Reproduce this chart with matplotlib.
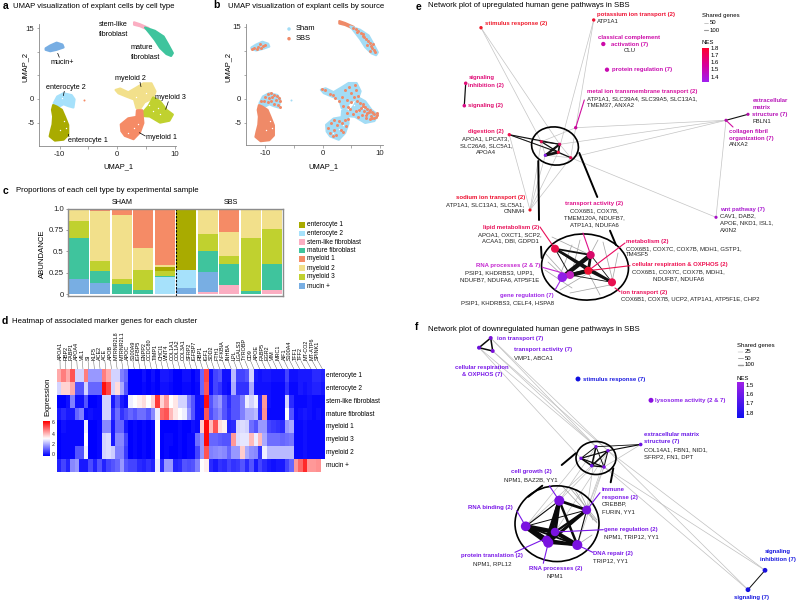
import numpy as np
import matplotlib
matplotlib.use('Agg')
import matplotlib.pyplot as plt
from matplotlib.colors import LinearSegmentedColormap
from matplotlib.patches import Ellipse, Polygon

plt.rcParams['font.family'] = ['Liberation Sans', 'DejaVu Sans']

W, H = 800, 602

# umap cluster outlines, in umap units
mucin_x = [-12.4, -11.6, -10.5, -9.5, -9.3, -10.5, -11.6, -12.4]
mucin_y = [10.7, 11.3, 11.9, 11.5, 10.9, 10.4, 10.1, 10.4]
stem_x = [2.9, 3.9, 5.4, 5.4, 3.9, 2.9]
stem_y = [16.2, 15.8, 15.0, 14.6, 15.4, 15.7]
mature_x = [4.8, 6.5, 8.0, 8.8, 9.6, 9.3, 8.5, 7.4, 6.5, 5.6]
mature_y = [15.1, 14.4, 13.2, 11.5, 9.7, 9.1, 9.5, 10.8, 12.5, 13.9]
ent2_x = [-11.0, -10.4, -9.3, -7.9, -7.4, -7.6, -8.5, -9.3, -9.9, -10.6]
ent2_y = [-0.9, 0.5, 1.2, 0.8, -0.1, -1.8, -1.5, -1.1, -1.5, -1.8]
ent1_x = [-11.1, -10.5, -9.6, -9.1, -8.5, -8.5, -9.3, -10.8, -11.7, -11.5, -11.2, -11.1, -11.3]
ent1_y = [-1.3, -1.6, -2.3, -3.7, -5.5, -7.6, -8.6, -8.8, -7.9, -6.8, -5.4, -3.7, -2.3]
my1_x = [0.6, 1.9, 3.3, 3.4, 4.3, 4.5, 3.9, 2.8, 1.3, 0.7]
my1_y = [-5.4, -4.1, -3.8, -2.4, -2.4, -5.1, -7.1, -8.5, -7.8, -6.8]
my2_x = [-0.3, 0.5, 1.9, 3.3, 4.5, 5.9, 6.6, 6.2, 4.7, 3.9, 3.3, 2.9, 1.6, 0.2]
my2_y = [1.9, 2.2, 1.4, 2.4, 3.3, 3.3, 1.6, 0.2, -0.7, -2.2, -1.9, -0.1, 0.5, 1.2]
my3_x = [6.2, 7.4, 8.5, 9.6, 9.0, 7.4, 5.6, 4.3, 4.6, 5.4]
my3_y = [0.3, -0.5, -2.3, -3.3, -4.6, -5.0, -3.7, -3.6, -2.6, -1.5]
holes_x = [2.8, 3.6, 1.8, 5.0, 6.2, 7.4, 7.0, 3.2, 5.4, -9.9, -9.2, -8.8, -9.5]
holes_y = [-6.2, -5.4, -7.1, 1.2, -2.6, -3.2, -1.9, 0.4, -1.2, -6.5, -4.6, -6.1, 0.2]

# SBS cells on top of the sham cells in panel b
sbs_x = [-12, -11.5, -11.3, -10.8, -10.4, -10, -10.9, -12.3,
         5.2, 5.8, 6.2, 6.6, 7, 7.2, 7.6, 7.9, 8.2, 7.8, 8.4, 8.6, 8.9, 8.3, 9.1, 6, 7, 8.7,
         -9.5, -9, -8.5, -8, -7.6, -7.5, -8.2, -8.8, -9.4, -10, -10.2, -9.6, -9, -8.5, -7.8, -7.4, -10.8,
         -0.2, 0.4, 1.2, 1.8, 2.2, 2.8, 3.4, 3.8, 4.6, 5, 5.4, 5.8, 4.2, 5.0, 6.1, 3.5, 4.4, 5.6,
         6, 6.5, 7, 7.4, 7.8, 8.2, 8.6, 9, 9.4, 9, 8.4, 7.8, 7.2, 6.8, 7.6, 6.6, 8.2, 5.8, 6.2, 9.4,
         8.8, 8.0, 7.6, 8.5, 9.2, 7.0, 6.4, 5.2, 4.8,
         1, 1.5, 2, 2.5, 2.8, 3.4, 3.8, 3.2, 2.4, 1.8, 3.6, 4, 4.2, 2, 1.2, 4.4]
sbs_y = [10.6, 10.4, 10.9, 10.5, 11, 11.3, 11.5, 10.4,
         14.8, 14.5, 14.2, 13.8, 13.5, 12.8, 12.5, 12, 11.6, 11.2, 11, 10.5, 10.2, 10, 9.7, 14, 13, 11.5,
         1, 1.2, 0.9, 0.6, 0.2, -0.5, -0.2, 0.4, 0.2, 0.4, -0.4, -0.6, -0.4, -1, -1.2, -1.7, -0.5,
         2, 1.8, 1, 0.8, 0.1, -0.5, 0.5, 1.8, 2.5, 1.2, 0.4, 1.8, -0.2, -0.6, 0.6, -1.4, -1.6, 2.8,
         -0.4, -0.8, -1, -1.6, -2, -2.4, -2.8, -3.2, -3.4, -3.9, -3.5, -3, -2.6, -3.4, -4, -1.8, -4.2, -2.6, -3.8, -3.0,
         -2.9, -2.8, -3.4, -3.9, -3.7, -1.4, -2.4, -3.2, -2.0,
         -6, -5, -6.5, -5.5, -4.6, -5, -4.4, -6.4, -7.5, -7.8, -6.8, -5.6, -3, -4.4, -7, -4.2]

# stacked bars, samples left to right, bottom to top
stem_ab = [0, 0, 0, 0, 0, 0, .03, .105, 0, .05]
mucin_ab = [.18, .13, 0, 0, 0, .07, .23, 0, 0, 0]
ent2_ab = [0, 0, 0, 0, .20, .22, 0, 0, 0, 0]
mature_ab = [.48, .14, .12, .05, .01, 0, .24, .25, .04, .305]
my3_ab = [.19, .12, .06, .24, .06, 0, .20, .095, .62, .405]
ent1_ab = [0, 0, 0, 0, .055, .71, 0, 0, 0, 0]
my2_ab = [.15, .58, .75, .25, .015, 0, .28, .28, .32, .24]
my1_ab = [0, .03, .07, .46, .66, 0, .02, .27, .02, 0]

c_ent1 = '#a9ab00'
c_ent2 = '#a6e1fb'
c_stem = '#fbaec2'
c_mature = '#3fc49d'
c_my1 = '#f58b66'
c_my2 = '#f2e08b'
c_my3 = '#c0d12f'
c_mucin = '#78aee3'
c_sham = '#a3dcf5'
c_sbs = '#ef8a68'

legend_names = ['enterocyte 1', 'enterocyte 2', 'stem-like fibroblast', 'mature fibroblast',
                'myeloid 1', 'myeloid 2', 'myeloid 3', 'mucin +']
legend_cols = [c_ent1, c_ent2, c_stem, c_mature, c_my1, c_my2, c_my3, c_mucin]

# heatmap
hm_ent1 = [4, 4.5, 4, 5, 2.5, 2.5, 4.5, 1.8, 1.8, 1.8, 4.5, 4, 2.5, 2.5, 1.5, 1.2, 0, 0, 0, .2, 0, .2, 0, .3, .3, .2, 0, 0, .2, .2, 0, .2, 1.2, 5.2, .2, .8, 1, .2, .2, 2.2, .8, .8, 1, 2.5, .3, .2, .3, .3, .2, .2, .2, .8, .2, .2, .3, .3, .3, .5, .5, .4]
hm_ent2 = [2.5, 3.5, 3.5, 4, 1, 1, 2.5, 1.2, 1.2, 1.2, 5.8, 5.2, 2.5, 3.4, 2, 1, 0, 0, 0, .1, 0, .1, 0, .2, .2, .1, 0, 0, .1, .1, 0, .1, 1.2, 5, .2, .8, .6, .2, .1, 2, .6, .6, .6, 2, .2, .2, .2, .2, .1, .1, .1, .6, .1, .1, .3, .2, .3, .4, .4, .3]
hm_stem = [0, 0, .2, 1.5, .2, .2, 1, 0, 0, .1, 2.5, 2.5, .3, 1, .3, .1, 2.8, 3, 3.2, 3.4, 3, 3.5, 5.3, 3.5, 4.2, 3, 3.3, 2.5, 2.5, 1.5, 1, .2, .3, 5.8, 1, 1.5, 1.8, 1, .5, 1, 1, 1.5, 2.8, 2.5, 2.8, .5, 4.2, .2, .1, .1, .1, 2.5, .5, .1, .1, .1, .2, .1, .1, .1]
hm_mature = [.3, .5, .3, .3, 1.2, 1.5, .1, .2, .1, .1, 2.5, 2.5, .6, 1.3, .6, .9, 1.2, 1, 1.3, 1.3, 1, 1.6, 2.8, 4.8, 5, 3.8, 3.3, 3, 2.8, 1.8, 1, .2, .2, 5, .9, 1.3, 1.6, 1, .6, 1, 1, 1.5, 2, 2, 2.2, .5, 4.3, .1, .1, .1, .1, 3, 1, .1, .2, .3, .2, .1, .2, .1]
hm_my1 = [0, .2, .1, .1, .1, .1, 2.8, 0, 0, .1, 1.6, 1.6, .3, 1.2, 1.2, .3, 0, .1, 0, .1, 0, .1, 3, 0, 0, 0, 0, .1, 0, 0, .2, .1, 3.6, 5.9, 3.8, 5, 3.4, 3.2, .4, .5, 2.5, 2.6, 2.5, 1.3, 1, 1.8, 1.8, .8, .7, .6, .5, 1.8, 2, .1, .1, .2, .1, .1, .1, .1]
hm_my3 = [0, .1, .1, .1, .1, .1, 3, 0, 0, .1, 2.5, 2.6, .3, 1.6, 1.6, .8, 0, .1, 0, .1, 0, .1, 3, 0, .1, .1, 0, .1, 0, .1, .1, 1.3, 1.8, 5.9, 1.2, 1.2, 1.1, 1, 1, 4.2, 2.6, 2.7, 2.7, 3.8, 2.8, 3.8, 2, 1.3, 1.3, 1.3, 1.2, 1.3, 1.4, .1, .1, .2, .1, .1, .1, .1]
hm_my2 = [0, .1, .1, .1, 1, 1, 2.8, 0, 0, .1, 2.5, 2.6, 2.4, 1.5, 1.5, .7, 0, .1, 0, .1, 0, .1, 3, 0, .1, 0, 0, .1, 0, .1, .1, .8, 1.8, 5, 1.5, 1.6, 1.7, 1.6, 1.2, 1.8, 1.8, 3.6, 2, 1.7, 1.6, .6, 2.8, 2.2, 2.2, 2.2, 2.2, 2.2, 2.2, .1, .1, .2, .1, .1, .1, .1]
hm_mucin = [.4, .8, .4, 1.6, 1.8, .3, .3, .9, .4, 1, .4, .8, 1, 1.2, 1.8, 1, .8, .8, .5, .4, .6, .4, 2.8, .5, 1.8, 1.8, .4, .5, 1, .9, 1, 1.5, 3, 3.2, .5, .3, .6, .5, .8, .6, .7, 1, .5, 1, .3, .8, .5, .3, .2, .3, .3, .8, 1.2, 4.2, 4.8, 5.5, 4.2, 4.2, 4.3, 3]
hm_rows = ['enterocyte 1', 'enterocyte 2', 'stem-like fibroblast', 'mature fibroblast',
           'myeloid 1', 'myeloid 3', 'myeloid 2', 'mucin +']
genes = ['APOA1', 'RBP2', 'FABP1', 'APOA4', 'VIL1', 'SI', 'KLF5', 'ACE2', 'ACE', 'APOB', 'MTRNR2L8',
         'MTRNR2L1', 'APOC', 'S100A9', 'IGFBP5', 'ENPP2', 'CCDC80', 'TIMP1', 'CHCI1', 'WNT4', 'COL1A1',
         'COL1A2', 'COL3A1', 'SFRP2', 'IGFBP7', 'RBP1', 'IGF1', 'SOD2', 'FTH1', 'NFKBIA', 'INHBA', 'LPL',
         'LGALS3', 'TYROBP', 'CD9', 'APOE', 'FABP5', 'EGR2', 'VIM', 'MRC1', 'AIF1', 'S100A4', 'TFF1',
         'TFF2', 'MT-CO2', 'MT-ATP6', 'SPINK1']

# network e: node layout
e_x = [481, 593.7, 603.3, 607, 465.7, 464.3, 575.7, 748, 726, 509.3, 716, 530,
       541.3, 559.7, 545.3, 558.3, 570.7,
       555, 590.7, 588.3, 612, 570, 562.3]
e_y = [27.7, 20, 44, 69.7, 83.3, 105.7, 127.7, 114.3, 120.3, 134.7, 217.3, 210,
       141.7, 144.3, 155.3, 152.3, 157.7,
       248.7, 255, 270.7, 282.3, 275, 277.3]
e_col = ['#ef1a2a', '#ee1133', '#cc0aa8', '#c80ab0', '#e0107a', '#d8108a', '#c8089c', '#b410a8', '#b410a8',
         '#f01050', '#a810c8', '#ee1020',
         '#e01055', '#d8106a', '#8a20e8', '#ee1040', '#e01055',
         '#e8104a', '#d80a6a', '#ee1030', '#e81050', '#c020c0', '#9020e8']
e_size = [8, 8, 13, 13, 9, 9, 8, 7, 7, 8, 7, 7, 7, 7, 7, 7, 7, 45, 45, 45, 45, 45, 62]
e_edges_grey = [(0, 13), (0, 12), (1, 15), (1, 6), (9, 12), (9, 15), (9, 16), (9, 11), (11, 14), (11, 12), (11, 15),
                (11, 16), (6, 8), (8, 16), (8, 13), (8, 10), (10, 16), (6, 12), (6, 16), (13, 16), (12, 14), (14, 16)]
e_edges_dark = [(4, 5, .9), (7, 8, .8), (9, 13, .8), (9, 15, .7), (12, 15, .9), (12, 13, .7), (13, 15, 1.2),
                (14, 15, 2), (13, 14, 1.6), (15, 16, .9), (17, 20, 1.9), (17, 18, 1.3), (18, 22, 3.2), (19, 22, 3),
                (19, 20, 1.4), (17, 19, 1.3), (21, 19, 2.4), (18, 19, 2), (17, 21, .7), (21, 20, .6), (18, 20, .6)]
# thin lines that fan out in the lower circle of e
e_fan_x0 = [545, 548, 572, 580, 598, 618, 603, 560, 570, 545, 600, 552]
e_fan_y0 = [253, 262, 245, 240, 240, 253, 242, 290, 293, 270, 295, 237]
e_fan_x1 = [565, 562, 560, 573, 590, 612, 613, 590, 610, 572, 588, 590]
e_fan_y1 = [275, 275, 275, 268, 255, 282, 282, 272, 285, 288, 272, 255]
# coloured leader lines of e
e_lead_x0 = [540, 583, 625, 630, 615, 542.3, 555, 575.7, 726]
e_lead_y0 = [227, 233, 243, 265.7, 288, 267.3, 290, 127.7, 120.3]
e_lead_x1 = [555, 590.7, 588.3, 588.3, 620, 570, 562.3, 584.3, 733]
e_lead_y1 = [248.7, 255, 270.7, 270.7, 291.7, 275, 277.3, 100, 127]
e_lead_c = ['#e81058', '#e0108a', '#ea0a60', '#ee1050', '#ea1058', '#c426d0', '#a028e8', '#d010a0', '#d010a0']

# network f: node layout
f_x = [490.7, 492.7, 479, 578, 651, 640.7, 596, 608, 581, 591.7, 604,
       559.3, 586.7, 525.7, 555, 548.3, 577.3, 546.7, 765, 748]
f_y = [338, 351, 347.7, 379, 400.3, 444.5, 446.7, 450.7, 458.3, 465.7, 467,
       500.7, 510, 526.3, 532, 542.7, 545, 540, 570.3, 589.7]
f_col = ['#7a10d8', '#7a10d8', '#6a10d8', '#1010e0', '#8a10e0', '#6a10e0', '#7a12e0', '#7a12e0', '#7a12e0',
         '#6a10e0', '#7a12e0',
         '#7a12e0', '#7a12e0', '#7a12e0', '#7a12e0', '#7a12e0', '#7a12e0', '#7a12e0', '#1a10e0', '#1410e0']
f_size = [11, 11, 11, 17, 17, 9, 8, 8, 8, 9, 9, 70, 55, 65, 50, 70, 70, 55, 16, 16]
f_edges_grey = [(0, 6), (0, 7), (1, 6), (1, 7), (2, 6), (2, 8), (18, 7), (19, 7), (19, 10), (18, 10), (5, 10),
                (11, 7), (12, 6), (11, 6), (12, 7), (14, 7), (13, 8), (13, 9), (16, 10), (12, 10), (11, 12)]
f_edges_dark = [(0, 1, 1.1), (1, 2, 1.1), (0, 2, 1.1), (18, 19, .7), (5, 7, .8), (5, 6, .6), (6, 9, 1.1), (7, 9, 1.1),
                (8, 10, .9), (6, 10, .7), (8, 7, .9), (9, 10, 1), (8, 9, 1.2), (6, 8, .7), (7, 10, .7),
                (13, 15, 3.8), (13, 14, 3.2), (13, 17, 3.4), (11, 15, 2.8), (11, 17, 2.4), (11, 12, 2), (12, 14, 1.6),
                (12, 15, 2.2), (14, 16, 3), (17, 16, 2.2), (11, 16, 1.8), (13, 16, 1.3), (15, 16, 1.8), (11, 14, 2.4),
                (13, 11, .8), (13, 12, .7), (12, 16, .8), (17, 14, 3.6), (15, 14, 3.6)]
# grey bundle across the right of the big circle of f
f_fan_x0 = [563, 570, 580, 575, 597, 592]
f_fan_y0 = [487, 488, 492, 490, 522, 535]
f_fan_x1 = [597, 597, 593, 588, 586.7, 577.3]
f_fan_y1 = [523, 520, 520, 512, 510, 545]
f_lead_x0 = [549.3, 600, 516.7, 603.3, 592.7, 515, 543.3]
f_lead_y0 = [485.7, 492.7, 510.7, 529.7, 552.3, 552.3, 563.3]
f_lead_x1 = [559.3, 586.7, 525.7, 555, 577.3, 546.7, 548.3]
f_lead_y1 = [500.7, 510, 526.3, 532, 545, 538, 542.7]

# text labels: x, y, text, colour
e_left = [(484.7, 23.7, 'stimulus response (2)', '#ef1a2a'), (597.3, 14.7, 'potassium ion transport (2)', '#ee1133'),
          (612, 69.7, 'protein regulation (7)', '#c80ab0'), (468.3, 77.7, 'signaling', '#e0107a'),
          (468.3, 85, 'inhibition (2)', '#e0107a'), (468, 105.7, 'signaling (2)', '#e01070'),
          (587, 91, 'metal ion transmembrane transport (2)', '#d610a0'),
          (752.3, 100.7, 'extracellular', '#b814b8'), (752.3, 107.7, 'matrix', '#b814b8'),
          (752.3, 114.3, 'structure (7)', '#b814b8'), (729.3, 131, 'collagen fibril', '#c012b4'),
          (729.3, 138.3, 'organization (7)', '#c012b4'), (720, 209, 'wnt pathway (7)', '#a818d0'),
          (626, 241, 'metabolism (2)', '#ea0a60'), (631.7, 264.7, 'cellular respiration & OXPHOS (2)', '#ee1050'),
          (476, 266, 'RNA processes (2 & 7)', '#c426d0'), (621, 292.3, 'ion transport (2)', '#ea1058')]
e_center = [(629.3, 37, 'classical complement', '#cc0aa8'), (629.3, 44.3, 'activation (7)', '#cc0aa8'),
            (486, 131.3, 'digestion (2)', '#ea1060'), (490.3, 197.7, 'sodium ion transport (2)', '#ee1030'),
            (594.3, 203, 'transport activity (2)', '#e0108a'), (510.7, 227.7, 'lipid metabolism (2)', '#e81058'),
            (527, 295, 'gene regulation (7)', '#a028e8')]
e_black_left = [(597.3, 21.7, 'ATP1A1'), (587, 98.3, 'ATP1A1, SLC39A4, SLC39A5, SLC13A1,'), (587, 105, 'TMEM37, ANXA2'),
                (752.3, 121.7, 'FBLN1'), (729.3, 144.7, 'ANXA2'), (720, 216, 'CAV1, DAB2,'),
                (720, 223, 'APOE, NKD1, ISL1,'), (720, 230.3, 'AXIN2'),
                (626, 248.7, 'COX6B1, COX7C, COX7B, MDH1, GSTP1,'), (626, 255, 'TM4SF5'),
                (621, 299, 'COX6B1, COX7B, UCP2, ATP1A1, ATP5F1E, CHP2')]
e_black_center = [(629.3, 51, 'CLU'), (486, 138.3, 'APOA1, LPCAT3,'), (486, 145.3, 'SLC26A6, SLC5A1,'), (486, 152.3, 'APOA4'),
                  (485.3, 205, 'ATP1A1, SLC13A1, SLC5A1,'), (514, 211.3, 'CNNM4'),
                  (594.3, 210.3, 'COX6B1, COX7B,'), (594.3, 217.3, 'TMEM120A, NDUFB7,'), (594.3, 224.7, 'ATP1A1, NDUFA6'),
                  (510, 234.7, 'APOA1, OXCT1, SCP2,'), (510, 241, 'ACAA1, DBI, GDPD1'),
                  (678.7, 272, 'COX6B1, COX7C, COX7B, MDH1,'), (678.7, 278.7, 'NDUFB7, NDUFA6'),
                  (499.3, 273, 'PSIP1, KHDRBS3, UPP1,'), (499.3, 279.7, 'NDUFB7, NDUFA6, ATP5F1E'),
                  (507.7, 302.3, 'PSIP1, KHDRBS3, CELF4, HSPA8')]
f_left = [(497, 338.3, 'ion transport (7)', '#7a18e8'), (513.7, 350, 'transport activity (7)', '#7a18e8'),
          (583, 379.3, 'stimulus response (7)', '#1a1ae0'), (655, 400.7, 'lysosome activity (2 & 7)', '#8a20e8'),
          (644, 434.7, 'extracellular matrix', '#6a18e8'), (644, 442, 'structure (7)', '#6a18e8'),
          (601.7, 489.3, 'immune', '#7a18e8'), (601.7, 497, 'response (2)', '#7a18e8'),
          (468, 507.7, 'RNA binding (2)', '#7a18e8'), (604.3, 529.7, 'gene regulation (2)', '#7a18e8'),
          (593.3, 553, 'DNA repair (2)', '#7a18e8')]
f_center = [(482.3, 367, 'cellular respiration', '#7a18e8'), (482.3, 374.7, '& OXPHOS (7)', '#7a18e8'),
            (531, 472, 'cell growth (2)', '#7a18e8'), (492.3, 556, 'protein translation (2)', '#7a18e8'),
            (555.3, 568.3, 'RNA processes (2)', '#7a18e8'), (777.7, 551.7, 'signaling', '#1a1ae0'),
            (777.7, 559.3, 'inhibition (7)', '#1a1ae0'), (751.3, 597.5, 'signaling (7)', '#1a1ae0')]
f_black_left = [(513.7, 357.3, 'VMP1, ABCA1'), (644, 449.3, 'COL14A1, FBN1, NID1,'), (644, 456.3, 'SFRP2, FN1, DPT'),
                (601.7, 504, 'CREBBP,'), (601.7, 511.3, 'FURIN, YY1'), (604.3, 537, 'NPM1, TRIP12, YY1'),
                (593.3, 560.3, 'TRIP12, YY1')]
f_black_center = [(531, 479.7, 'NPM1, BAZ2B, YY1'), (492.3, 563.3, 'NPM1, RPL12'), (555.3, 576, 'NPM1')]


def box_axes(x0, y0, x1, y1):
    # axes from a pixel box, y counted from the top
    return fig.add_axes([x0 / W, 1 - y1 / H, (x1 - x0) / W, (y1 - y0) / H])


def dot_area(d):
    return (d * 0.72) ** 2


fig = plt.figure(figsize=(W / 100, H / 100), dpi=100)

# overlay for text, network plots and free drawn keys, in pixels
ov = fig.add_axes([0, 0, 1, 1], zorder=5)
ov.set_xlim(0, W)
ov.set_ylim(H, 0)
ov.axis('off')
ov.patch.set_alpha(0)


def txt(x, y, s, size=4.3, color='black', bold=False, ha='left', rot=0, va='center'):
    ov.text(x, y, s, fontsize=size, color=color, fontweight='bold' if bold else 'normal',
            ha=ha, va=va, rotation=rot)


def seg(x0, y0, x1, y1, color='black', lw=0.5, z=2):
    ov.plot([x0, x1], [y0, y1], color=color, lw=lw, zorder=z, solid_capstyle='round')


# titles
for x, y, s in [(3, 6, 'a'), (213, 5.5, 'b'), (3, 191, 'c'), (2, 321, 'd'), (416, 6.5, 'e'), (415, 327, 'f')]:
    txt(x, y, s, size=7.5, bold=True)
for x, y, s in [(12.7, 6.7, 'UMAP visualization of explant cells by cell type'),
                (228, 6, 'UMAP visualization of explant cells by source'),
                (15.7, 191, 'Proportions of each cell type by experimental sample'),
                (11.7, 321.7, 'Heatmap of associated marker genes for each cluster'),
                (427.7, 5.7, 'Network plot of upregulated human gene pathways in SBS'),
                (427.7, 329.3, 'Network plot of downregulated human gene pathways in SBS')]:
    txt(x, y, s, size=5.6)


def style_umap(ax):
    for sp in ['top', 'right']:
        ax.spines[sp].set_visible(False)
    for sp in ['left', 'bottom']:
        ax.spines[sp].set_color('#888888')
        ax.spines[sp].set_linewidth(0.6)
    ax.set_xticks([-10, -5, 0, 5, 10])
    ax.set_xticklabels(['-10', '', '0', '', '10'])
    ax.set_yticks([-5, 0, 5, 10, 15])
    ax.set_yticklabels(['-5', '0', '', '', '15'])
    ax.tick_params(labelsize=5.6, length=1.8, width=0.5, color='#888888', labelcolor='#222222', pad=1.5)


# panel a
ax_a = box_axes(39, 24, 176, 146)
ax_a.set_xlim(-13.55, 10.15)
ax_a.set_ylim(-9.95, 15.85)
style_umap(ax_a)
clusters = [(mucin_x, mucin_y, c_mucin), (stem_x, stem_y, c_stem), (mature_x, mature_y, c_mature),
            (ent2_x, ent2_y, c_ent2), (ent1_x, ent1_y, c_ent1), (my2_x, my2_y, c_my2),
            (my3_x, my3_y, c_my3), (my1_x, my1_y, c_my1)]
for cx, cy, col in clusters:
    ax_a.add_patch(Polygon(np.column_stack([cx, cy]), closed=True, fc=col, ec=col, lw=1.6, joinstyle='round', clip_on=False))
ax_a.scatter(holes_x, holes_y, s=dot_area(1.4), c='white', lw=0)
ax_a.scatter([-5.7], [-0.2], s=dot_area(2), c=c_my1, lw=0)

for x, y, s in [(98.7, 24.3, 'stem-like'), (98.7, 34, 'fibroblast'), (131, 47.7, 'mature'), (131, 57.3, 'fibroblast'),
                (50.3, 62, 'mucin+'), (45.7, 87.3, 'enterocyte 2'), (68.3, 140, 'enterocyte 1'),
                (115, 78.3, 'myeloid 2'), (155.3, 97.3, 'myeloid 3'), (146, 137.3, 'myeloid 1')]:
    txt(x, y, s, size=5.2)
for x0, y0, x1, y1 in [(57.7, 53.3, 59.3, 57.3), (64.3, 91.3, 63.3, 95.7), (68.3, 134.3, 69, 136.7),
                       (140, 82.3, 141, 86.7), (168.3, 101.7, 165.7, 109.3), (139.3, 132.7, 145.3, 136)]:
    seg(x0, y0, x1, y1, lw=0.5)
txt(118, 166.7, 'UMAP_1', size=5.4, ha='center')
txt(25, 67, 'UMAP_2', size=5.4, ha='center', rot=90)

# panel b
ax_b = box_axes(246, 24, 383, 145)
ax_b.set_xlim(-13.35, 10.5)
ax_b.set_ylim(-9.6, 15.6)
style_umap(ax_b)
for cx, cy, col in [(mucin_x, mucin_y, c_sham), (stem_x, stem_y, c_sbs), (mature_x, mature_y, c_sham),
                    (ent2_x, ent2_y, c_sham), (ent1_x, ent1_y, c_sbs), (my2_x, my2_y, c_sham),
                    (my3_x, my3_y, c_sham), (my1_x, my1_y, c_sham)]:
    ax_b.add_patch(Polygon(np.column_stack([cx, cy]), closed=True, fc=col, ec=col, lw=1.6, joinstyle='round', clip_on=False))
ax_b.scatter(holes_x, holes_y, s=dot_area(1.4), c='white', lw=0)
ax_b.scatter(sbs_x, sbs_y, s=dot_area(3.0), c=c_sbs, lw=0)
ax_b.scatter([-5.6], [-0.2], s=dot_area(2), c=c_sham, lw=0)
ov.scatter([289, 289], [29, 38.7], s=dot_area(3.5), c=[c_sham, c_sbs], lw=0)
txt(295.3, 29, 'Sham', size=5.4)
txt(295.3, 38.7, 'SBS', size=5.4)
txt(323, 167, 'UMAP_1', size=5.4, ha='center')
txt(228, 67, 'UMAP_2', size=5.4, ha='center', rot=90)

# panel c
ax_c = box_axes(68, 208.5, 283, 295.5)
idx = np.arange(10)
bottom = np.zeros(10)
for vals, col in [(stem_ab, c_stem), (mucin_ab, c_mucin), (ent2_ab, c_ent2), (mature_ab, c_mature),
                  (my3_ab, c_my3), (ent1_ab, c_ent1), (my2_ab, c_my2), (my1_ab, c_my1)]:
    ax_c.bar(idx, vals, bottom=bottom, width=0.93, color=col, lw=0)
    bottom += np.array(vals)
ax_c.set_xlim(-0.5, 9.5)
ax_c.set_ylim(-0.012, 1.0)
ax_c.axvline(4.5, color='black', ls=(0, (2, 1.2)), lw=0.8)
ax_c.set_xticks([])
ax_c.set_yticks([0, 0.25, 0.5, 0.75, 1.0])
ax_c.set_yticklabels(['0', '0.25', '0.5', '0.75', '1.0'])
ax_c.tick_params(labelsize=5.6, length=1.5, width=0.5, color='#777777', labelcolor='#222222', pad=1.5)
for sp in ax_c.spines.values():
    sp.set_color('#8c8c8c')
    sp.set_linewidth(1.0)
txt(122, 203, 'SHAM', size=5.2, ha='center')
txt(231, 203, 'SBS', size=5.2, ha='center')
txt(42.7, 254, 'ABUNDANCE', size=5.6, ha='center', rot=90)
leg_y = [225, 233.3, 242, 250.7, 259, 268, 277, 286]
ov.scatter([302] * 8, leg_y, s=dot_area(5.2), c=legend_cols, marker='s', lw=0)
for y, name in zip(leg_y, legend_names):
    txt(307, y, name, size=4.7)

# panel d
hm_cmap = LinearSegmentedColormap.from_list('bwr2', ['#0000ff', '#ffffff', '#ff0000'])
hm = np.array([hm_ent1, hm_ent2, hm_stem, hm_mature, hm_my1, hm_my3, hm_my2, hm_mucin])
ax_d = box_axes(57.3, 369.3, 325, 471.7)
ax_d.imshow(hm, cmap=hm_cmap, vmin=0, vmax=6, aspect='auto', interpolation='nearest')
ax_d.set_xticks([])
ax_d.set_yticks([])
for sp in ax_d.spines.values():
    sp.set_visible(False)
n_genes = len(genes)
for i, g in enumerate(genes):
    lx = 60 + 5.6 * i
    tx = 57.3 + (i + 0.5) * 268 / n_genes
    txt(lx, 360, g, size=3.9, ha='center', rot=90, va='bottom')
    seg(lx, 360.5, tx, 369, color='#555555', lw=0.3)
for i, name in enumerate(hm_rows):
    txt(326.5, 375.7 + 12.8 * i, name, size=4.7)
txt(48, 397, 'Expression', size=5.6, ha='center', rot=90)
grad = np.linspace(6, 0, 100).reshape(-1, 1)
ov.imshow(grad, cmap=hm_cmap, vmin=0, vmax=6, extent=(43, 50, 456, 421), aspect='auto', zorder=3)
for y, s in [(423, '6'), (434, '4'), (444.5, '2'), (455, '0')]:
    txt(52, y, s, size=3.8, color='#222222')

# panel e
for a, b in e_edges_grey:
    seg(e_x[a], e_y[a], e_x[b], e_y[b], color='#c4c4c4', lw=0.5, z=1)
for i in range(len(e_fan_x0)):
    seg(e_fan_x0[i], e_fan_y0[i], e_fan_x1[i], e_fan_y1[i], color='#a8a8a8', lw=0.55, z=1)
for a, b, w in e_edges_dark:
    seg(e_x[a], e_y[a], e_x[b], e_y[b], color='#111111', lw=w, z=2)
ov.add_patch(Ellipse((555, 146), 47, 38, angle=8, fc='none', ec='black', lw=1.2, zorder=3))
ov.add_patch(Ellipse((585, 267), 87, 66, angle=4, fc='none', ec='black', lw=1.2, zorder=3))
for x0, y0, x1, y1 in [(538.3, 161, 539, 220), (541, 246.7, 541.7, 258), (579.3, 153, 597.3, 197), (610, 230.7, 616, 245)]:
    seg(x0, y0, x1, y1, lw=1.4, z=3)
for i in range(len(e_lead_x0)):
    seg(e_lead_x0[i], e_lead_y0[i], e_lead_x1[i], e_lead_y1[i], color=e_lead_c[i], lw=0.8, z=3)
ov.scatter(e_x, e_y, s=[dot_area(np.sqrt(v) * 1.2) for v in e_size], c=e_col, lw=0, zorder=4)
for x, y, s, c in e_left:
    txt(x, y, s, color=c, bold=True)
for x, y, s, c in e_center:
    txt(x, y, s, color=c, bold=True, ha='center')
for x, y, s in e_black_left:
    txt(x, y, s, color='#222222')
for x, y, s in e_black_center:
    txt(x, y, s, color='#222222', ha='center')

# panel f
for a, b in f_edges_grey:
    seg(f_x[a], f_y[a], f_x[b], f_y[b], color='#c0c0c0', lw=0.5, z=1)
for i in range(len(f_fan_x0)):
    seg(f_fan_x0[i], f_fan_y0[i], f_fan_x1[i], f_fan_y1[i], color='#a8a8a8', lw=0.55, z=1)
for a, b, w in f_edges_dark:
    seg(f_x[a], f_y[a], f_x[b], f_y[b], color='#0a0a0a', lw=w, z=2)
ov.add_patch(Ellipse((596, 458), 40, 33, fc='none', ec='black', lw=1.2, zorder=3))
ov.add_patch(Ellipse((557, 523.7), 84, 75.7, fc='none', ec='black', lw=1.2, zorder=3))
for x0, y0, x1, y1 in [(575.7, 453.3, 561.7, 465), (613.3, 468.3, 610.7, 482.3), (542.3, 485.7, 528.3, 496.7)]:
    seg(x0, y0, x1, y1, lw=1.4, z=3)
for i in range(len(f_lead_x0)):
    seg(f_lead_x0[i], f_lead_y0[i], f_lead_x1[i], f_lead_y1[i], color='#7a18e8', lw=0.8, z=3)
ov.scatter(f_x, f_y, s=[dot_area(np.sqrt(v) * 1.2) for v in f_size], c=f_col, lw=0, zorder=4)
for x, y, s, c in f_left:
    txt(x, y, s, color=c, bold=True)
for x, y, s, c in f_center:
    txt(x, y, s, color=c, bold=True, ha='center')
for x, y, s in f_black_left:
    txt(x, y, s, color='#222222')
for x, y, s in f_black_center:
    txt(x, y, s, color='#222222', ha='center')

# keys of e and f
txt(701.7, 15, 'Shared genes')
for y, s, w in [(22.7, '50', 0.4), (30, '100', 0.8)]:
    seg(704, y, 708, y, color='#999999', lw=w)
    txt(710, y, s)
txt(701.7, 42.7, 'NES')
e_cmap = LinearSegmentedColormap.from_list('e_nes', ['#ff0030', '#d8009a', '#a020f0'])
ov.imshow(np.linspace(0, 1, 100).reshape(-1, 1), cmap=e_cmap, extent=(702, 709, 81.7, 47.7), aspect='auto', zorder=3)
for y, s in [(48.7, '1.8'), (55.7, '1.7'), (62.7, '1.6'), (69.7, '1.5'), (77.3, '1.4')]:
    txt(711, y, s)

txt(736.7, 345, 'Shared genes')
for y, s, w in [(351.7, '25', 0.3), (358.3, '50', 0.6), (365, '100', 1.0)]:
    seg(738, y, 742.5, y, color='#999999', lw=w)
    txt(744.5, y, s)
txt(736.7, 378.3, 'NES')
f_cmap = LinearSegmentedColormap.from_list('f_nes', ['#a020e8', '#1010f0'])
ov.imshow(np.linspace(0, 1, 100).reshape(-1, 1), cmap=f_cmap, extent=(737, 744, 418.3, 383), aspect='auto', zorder=3)
for y, s in [(385.7, '1.5'), (394.3, '1.6'), (403.7, '1.7'), (413.3, '1.8')]:
    txt(745.5, y, s)

ov.set_xlim(0, W)
ov.set_ylim(H, 0)
fig.savefig('out.png', dpi=100)
